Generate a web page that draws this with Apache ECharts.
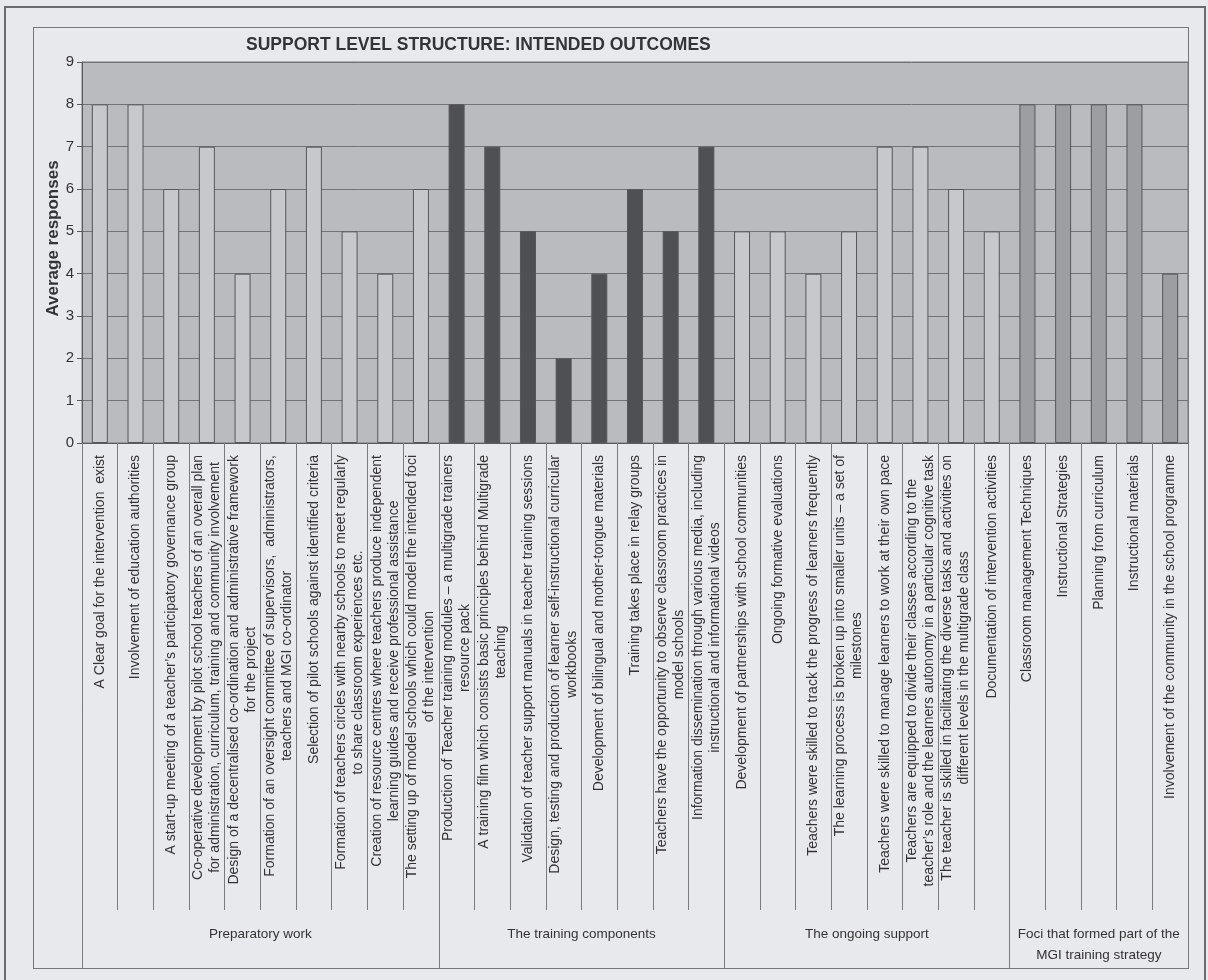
<!DOCTYPE html>
<html>
<head>
<meta charset="utf-8">
<title>Support level structure: intended outcomes</title>
<script src="https://cdn.jsdelivr.net/npm/echarts@6/dist/echarts.min.js"></script>
<style>
  html, body { margin: 0; padding: 0; background: #e8e9ed; }
  #wrap { position: relative; width: 1208px; height: 980px; overflow: hidden; }
  .frame { position: absolute; box-sizing: border-box; pointer-events: none; }
  #outer { left: 4px; top: 6px; width: 1202px; height: 990px; border: 2px solid #6a6b6e; }
  #inner { left: 33px; top: 27px; width: 1156px; height: 942px; border: 1px solid #76777a; }
  #chart { position: absolute; left: 0; top: 0; width: 1208px; height: 980px; }
</style>
</head>
<body>
<div id="wrap">
  <div id="outer" class="frame"></div>
  <div id="inner" class="frame"></div>
  <div id="chart"></div>
</div>
<script>
// Outcome statements, in plotting order (line breaks as laid out under the axis)
const categories = [
  'A Clear goal for the intervention  exist',
  'Involvement of education authorities',
  'A start-up meeting of a teacher\u2019s participatory governance group',
  'Co-operative development by pilot school teachers of an overall plan\nfor administration, curriculum, training and community involvement',
  'Design of a decentralised co-ordination and administrative framework\nfor the project',
  'Formation of an oversight committee of supervisors,  administrators,\nteachers and MGI co-ordinator',
  'Selection of pilot schools against identified criteria',
  'Formation of teachers circles with nearby schools to meet regularly\nto share classroom experiences etc.',
  'Creation of resource centres where teachers produce independent\nlearning guides and receive professional assistance',
  'The setting up of model schools which could model the intended foci\nof the intervention',
  'Production of Teacher training modules \u2013 a multigrade trainers\nresource pack',
  'A training film which consists basic principles behind Multigrade\nteaching',
  'Validation of teacher support manuals in teacher training sessions',
  'Design, testing and production of learner self-instructional curricular\nworkbooks',
  'Development of bilingual and mother-tongue materials',
  'Training takes place in relay groups',
  'Teachers have the opportunity to observe classroom practices in\nmodel schools',
  'Information dissemination through various media, including\ninstructional and informational videos',
  'Development of partnerships with school communities',
  'Ongoing formative evaluations',
  'Teachers were skilled to track the progress of learners frequently',
  'The learning process is broken up into smaller units \u2013 a set of\nmilestones',
  'Teachers were skilled to manage learners to work at their own pace',
  'Teachers are equipped to divide their classes according to the\nteacher\u2019s role and the learners autonomy in a particular cognitive task',
  'The teacher is skilled in facilitating the diverse tasks and activities on\ndifferent levels in the multigrade class',
  'Documentation of intervention activities',
  'Classroom management Techniques',
  'Instructional Strategies',
  'Planning from curriculum',
  'Instructional materials',
  'Involvement of the community in the school programme'
];

// Average responses per outcome
const values = [
  8, 8, 6, 7, 4, 6, 7, 5, 4, 6,
  8, 7, 5, 2, 4, 6, 5, 7,
  5, 5, 4, 5, 7, 7, 6, 5,
  8, 8, 8, 8, 4
];

// Support-level groups and how many outcomes each holds
const groupNames = [
  'Preparatory work',
  'The training components',
  'The ongoing support',
  'Foci that formed part of the\nMGI training strategy'
];
const groupSizes = [10, 8, 8, 5];

// Value-axis ticks
const yTicks = [0, 1, 2, 3, 4, 5, 6, 7, 8, 9];

// Bar fill per group
const groupFill = ['#c7c8cb', '#4f5053', '#c7c8cb', '#9d9ea1'];

const FONT = '"Liberation Sans", Arial, sans-serif';

// Group boundaries and label centres on a 0..N scale that matches the category band layout
const groupEdges = [0];
groupSizes.forEach(function (s) { groupEdges.push(groupEdges[groupEdges.length - 1] + s); });
const groupCentres = groupSizes.map(function (s, i) { return groupEdges[i] + s / 2; });
const groupOf = [];
groupSizes.forEach(function (s, g) { for (let k = 0; k < s; k++) groupOf.push(g); });

const barData = values.map(function (v, i) {
  return { value: v, itemStyle: { color: groupFill[groupOf[i]] } };
});

const chart = echarts.init(document.getElementById('chart'), null, { renderer: 'canvas' });

chart.setOption({
  backgroundColor: 'transparent',
  animation: false,
  textStyle: { fontFamily: FONT },
  title: {
    text: 'SUPPORT LEVEL STRUCTURE: INTENDED OUTCOMES',
    left: 246,
    top: 36,
    padding: 0,
    textStyle: { fontFamily: FONT, fontSize: 17.5, fontWeight: 'bold', color: '#333436' }
  },
  grid: {
    left: 82,
    right: 20,
    top: 62,
    bottom: 537,
    show: true,
    backgroundColor: '#babbbf',
    borderColor: '#76777a',
    borderWidth: 1
  },
  xAxis: [
    {
      type: 'category',
      data: categories,
      boundaryGap: true,
      axisLine: { show: true, lineStyle: { color: '#5a5b5e', width: 1 } },
      axisTick: { show: true, interval: 0, alignWithLabel: false, length: 467, lineStyle: { color: '#7a7b7e', width: 1 } },
      axisLabel: {
        interval: 0,
        rotate: 90,
        margin: 12,
        color: '#333',
        fontFamily: FONT,
        fontSize: 14,
        formatter: function (val) {
          return val.split('\n').map(function (l) { return '{c|' + l + '}'; }).join('\n');
        },
        rich: {
          c: { fontFamily: FONT, fontSize: 14, lineHeight: 17, color: '#333', align: 'center' }
        }
      },
      splitLine: { show: false }
    },
    {
      type: 'value',
      position: 'bottom',
      offset: 525,
      min: 0,
      max: groupEdges[groupEdges.length - 1],
      axisLine: { show: false },
      axisTick: {
        show: true,
        inside: true,
        length: 525,
        customValues: groupEdges,
        lineStyle: { color: '#7a7b7e', width: 1 }
      },
      axisLabel: {
        show: true,
        inside: true,
        margin: 44,
        verticalAlign: 'top',
        customValues: groupCentres,
        color: '#333',
        fontFamily: FONT,
        fontSize: 13.5,
        lineHeight: 21,
        formatter: function (v) {
          const i = groupCentres.indexOf(v);
          return i >= 0 ? groupNames[i] : '';
        }
      },
      splitLine: { show: false }
    }
  ],
  yAxis: {
    type: 'value',
    min: yTicks[0],
    max: yTicks[yTicks.length - 1],
    interval: yTicks[1] - yTicks[0],
    name: 'Average responses',
    nameLocation: 'middle',
    nameGap: 20,
    nameMoveOverlap: false,
    nameRotate: 90,
    nameTextStyle: { fontFamily: FONT, fontSize: 17, fontWeight: 'bold', color: '#333436', padding: [0, 0, 0, 28] },
    axisLine: { show: true, lineStyle: { color: '#5a5b5e', width: 1 } },
    axisTick: { show: true, length: 5, lineStyle: { color: '#5a5b5e' } },
    axisLabel: { margin: 8, fontFamily: FONT, fontSize: 15, color: '#333' },
    splitLine: { show: true, lineStyle: { color: '#727376', width: 1 } }
  },
  series: [
    {
      type: 'bar',
      xAxisIndex: 0,
      yAxisIndex: 0,
      data: barData,
      barWidth: 16,
      itemStyle: { borderColor: '#55565a', borderWidth: 1 }
    }
  ]
});
</script>
</body>
</html>
